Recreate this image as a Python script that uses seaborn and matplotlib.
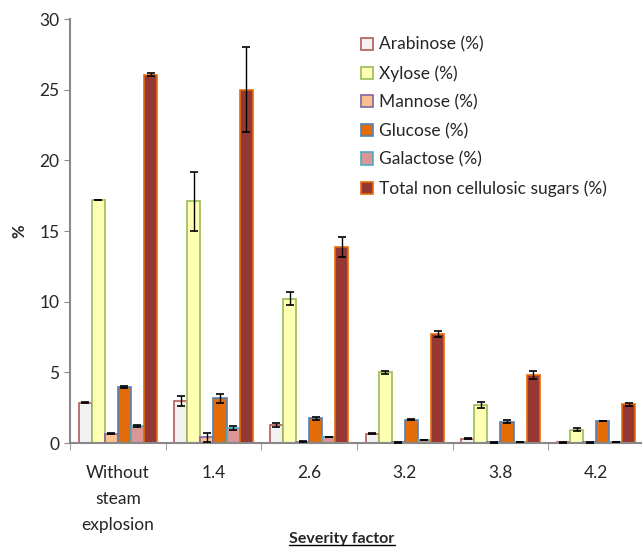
import matplotlib
matplotlib.use("Agg")
import matplotlib.pyplot as plt
from matplotlib.lines import Line2D
import seaborn as sns
import pandas as pd
import numpy as np

# --- datos ---
categories = ["Without\nsteam\nexplosion", "1.4", "2.6", "3.2", "3.8", "4.2"]
sugars = ["Arabinose (%)", "Xylose (%)", "Mannose (%)", "Glucose (%)",
          "Galactose (%)", "Total non cellulosic sugars (%)"]

arabinose = [2.85, 2.95, 1.3, 0.65, 0.3, 0.05]
xylose = [17.2, 17.1, 10.2, 5.0, 2.7, 0.95]
mannose = [0.65, 0.4, 0.1, 0.05, 0.05, 0.05]
glucose = [3.95, 3.15, 1.75, 1.65, 1.5, 1.55]
galactose = [1.2, 1.05, 0.4, 0.2, 0.05, 0.05]
total = [26.05, 25.0, 13.85, 7.7, 4.8, 2.75]

arabinose_err = [0.05, 0.35, 0.15, 0.03, 0.02, 0.02]
xylose_err = [0.0, 2.1, 0.45, 0.1, 0.2, 0.1]
mannose_err = [0.03, 0.3, 0.03, 0.02, 0.02, 0.02]
glucose_err = [0.05, 0.35, 0.1, 0.05, 0.1, 0.0]
galactose_err = [0.05, 0.15, 0.0, 0.0, 0.0, 0.0]
total_err = [0.1, 3.0, 0.7, 0.2, 0.3, 0.1]

values = [arabinose, xylose, mannose, glucose, galactose, total]
errors = [arabinose_err, xylose_err, mannose_err, glucose_err, galactose_err, total_err]

faces = ["#F2F2F2", "#FFFFB3", "#FAC090", "#E36C09", "#D99694", "#953735"]
edges = ["#B65A5A", "#9BBB59", "#8064A2", "#4F81BD", "#4BACC6", "#E46C0A"]

rows = []
for s, vals in zip(sugars, values):
    for c, v in zip(categories, vals):
        rows.append({"cat": c, "sugar": s, "value": v})
df = pd.DataFrame(rows)

sns.set_style("white")
plt.rcParams["font.family"] = ["Lato", "DejaVu Sans"]

fig = plt.figure(figsize=(6.42, 5.47), dpi=100)
ax = fig.add_axes([70 / 642, 104 / 547, 574 / 642, 424 / 547])

sns.barplot(data=df, x="cat", y="value", hue="sugar", order=categories,
            hue_order=sugars, width=0.82, errorbar=None, legend=False, ax=ax)

# colores y barras de error
for cont, fc, ec, err in zip(ax.containers, faces, edges, errors):
    xs, ys = [], []
    for p in cont.patches:
        p.set_facecolor(fc)
        p.set_edgecolor(ec)
        p.set_linewidth(1.2)
        xs.append(p.get_x() + p.get_width() / 2)
        ys.append(p.get_height())
    ax.errorbar(xs, ys, yerr=err, fmt="none", ecolor="black",
                elinewidth=1.0, capsize=3, capthick=1.2, zorder=5)

ax.legend(handles=ax.containers, labels=sugars, loc="upper left",
          bbox_to_anchor=(0.495, 0.975), frameon=False, fontsize=12.5,
          handlelength=0.7, handleheight=0.7, handletextpad=0.35,
          labelspacing=0.72, borderaxespad=0)

ax.set_ylim(0, 30)
ax.set_xlim(-0.5, 5.5)
ax.set_yticks(range(0, 31, 5))
ax.tick_params(axis="y", labelsize=12.5, length=4, color="#888888", direction="out", left=True)
ax.tick_params(axis="x", which="major", labelsize=12.5, length=0, pad=16)
for lab in ax.get_xticklabels():
    lab.set_linespacing(1.75)
ax.set_xticks(np.arange(-0.5, 6, 1), minor=True)
ax.tick_params(axis="x", which="minor", length=5, color="#888888", bottom=True, direction="out")

for side in ["top", "right"]:
    ax.spines[side].set_visible(False)
for side in ["left", "bottom"]:
    ax.spines[side].set_color("#888888")
    ax.spines[side].set_linewidth(1.5)

ax.set_ylabel("%", fontsize=12, fontweight="bold")
ax.yaxis.set_label_coords(-0.075, 0.5)
ax.set_xlabel("Severity factor", fontsize=11.5, fontweight="bold")
ax.xaxis.set_label_coords((342 - 70) / 574, -0.21)

# subrayado del título del eje x
fig.canvas.draw()
bb = ax.xaxis.label.get_window_extent()
x0, x1 = bb.x0 / fig.bbox.width, bb.x1 / fig.bbox.width
yy = (bb.y0 + 1) / fig.bbox.height
fig.add_artist(Line2D([x0, x1], [yy, yy], color="black", linewidth=1.0,
                      transform=fig.transFigure))

fig.savefig("out.png", dpi=100)
